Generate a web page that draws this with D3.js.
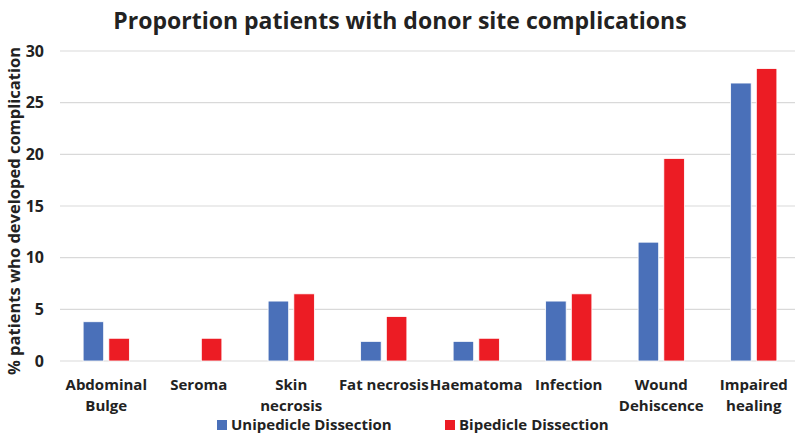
<!DOCTYPE html>
<html>
<head>
<meta charset="utf-8">
<script src="https://cdn.jsdelivr.net/npm/d3@7"></script>
<style>
  body { margin: 0; background: #fff; }
  text { font-family: "Open Sans", "DejaVu Sans", sans-serif; font-weight: bold; fill: #222; }
</style>
</head>
<body>
<script>
// chart values
const categories = ["Abdominal Bulge", "Seroma", "Skin necrosis", "Fat necrosis", "Haematoma", "Infection", "Wound Dehiscence", "Impaired healing"];
const categoryLines = [["Abdominal", "Bulge"], ["Seroma"], ["Skin", "necrosis"], ["Fat necrosis"], ["Haematoma"], ["Infection"], ["Wound", "Dehiscence"], ["Impaired", "healing"]];
const unipedicle = [3.8, 0, 5.8, 1.9, 1.9, 5.8, 11.5, 26.9];
const bipedicle = [2.2, 2.2, 6.5, 4.3, 2.2, 6.5, 19.6, 28.3];
const seriesNames = ["Unipedicle Dissection", "Bipedicle Dissection"];
const yTicks = [0, 5, 10, 15, 20, 25, 30];

const width = 800, height = 434;
const margin = { top: 51, right: 0, bottom: 73, left: 60 };
const colors = ["#4a70b9", "#ec1c24"];

const svg = d3.select("body").append("svg")
    .attr("width", width)
    .attr("height", height);

const x = d3.scaleBand()
    .domain(categories)
    .range([margin.left, width - margin.right])
    .paddingInner(0)
    .paddingOuter(0);

const y = d3.scaleLinear()
    .domain([0, 30])
    .range([height - margin.bottom, margin.top]);

const x1 = d3.scaleBand()
    .domain(seriesNames)
    .range([0, x.bandwidth()])
    .paddingInner(0.2)
    .paddingOuter(0.9);

// gridlines
svg.append("g")
    .selectAll("line")
    .data(yTicks)
    .enter().append("line")
    .attr("x1", margin.left)
    .attr("x2", width - 5)
    .attr("y1", d => y(d))
    .attr("y2", d => y(d))
    .style("stroke", "#d9d9d9")
    .style("stroke-width", 1.2);

// y tick labels
const yAxis = svg.append("g")
    .attr("transform", `translate(${margin.left - 16},0)`)
    .call(d3.axisLeft(y).tickValues(yTicks).tickSize(0).tickPadding(0));
yAxis.select(".domain").remove();
yAxis.selectAll("text")
    .style("font-size", "16px")
    .style("font-family", "'Open Sans', sans-serif")
    .style("font-weight", "bold")
    .attr("fill", "#222");

// bars
const rows = categories.map((c, i) => ({ cat: c, values: [unipedicle[i], bipedicle[i]] }));
const group = svg.append("g")
    .selectAll("g")
    .data(rows)
    .enter().append("g")
    .attr("transform", d => `translate(${x(d.cat)},0)`);

group.selectAll("rect")
    .data(d => d.values.map((v, j) => ({ name: seriesNames[j], value: v, j })))
    .enter().append("rect")
    .filter(d => d.value > 0)
    .attr("x", d => x1(d.name))
    .attr("width", x1.bandwidth())
    .attr("y", d => y(d.value))
    .attr("height", d => y(0) - y(d.value))
    .style("fill", d => colors[d.j])
    .style("stroke", "#fff")
    .style("stroke-width", 0.8);

// x category labels
const xl = svg.append("g")
    .selectAll("text")
    .data(categories)
    .enter().append("text")
    .attr("text-anchor", "middle")
    .attr("x", d => x(d) + x.bandwidth() / 2)
    .attr("y", 390)
    .style("font-size", "15px");
xl.selectAll("tspan")
    .data((d, i) => categoryLines[i])
    .enter().append("tspan")
    .attr("x", function() { return this.parentNode.getAttribute("x"); })
    .attr("dy", (d, i) => i === 0 ? 0 : 21)
    .text(d => d);

// y axis title
svg.append("text")
    .attr("transform", `translate(20,${(y(0) + y(30)) / 2 + 5}) rotate(-90)`)
    .attr("text-anchor", "middle")
    .style("font-size", "16.5px")
    .text("% patients who developed complication");

// title
svg.append("text")
    .attr("x", 400)
    .attr("y", 29)
    .attr("text-anchor", "middle")
    .style("font-size", "23px")
    .text("Proportion patients with donor site complications");

// legend
const legendX = [217, 445];
const legend = svg.append("g")
    .selectAll("g")
    .data(seriesNames)
    .enter().append("g")
    .attr("transform", (d, i) => `translate(${legendX[i]},420)`);
legend.append("rect")
    .attr("width", 10)
    .attr("height", 10)
    .style("fill", (d, i) => colors[i]);
legend.append("text")
    .attr("x", 14)
    .attr("y", 10)
    .style("font-size", "15px")
    .text(d => d);
</script>
</body>
</html>
